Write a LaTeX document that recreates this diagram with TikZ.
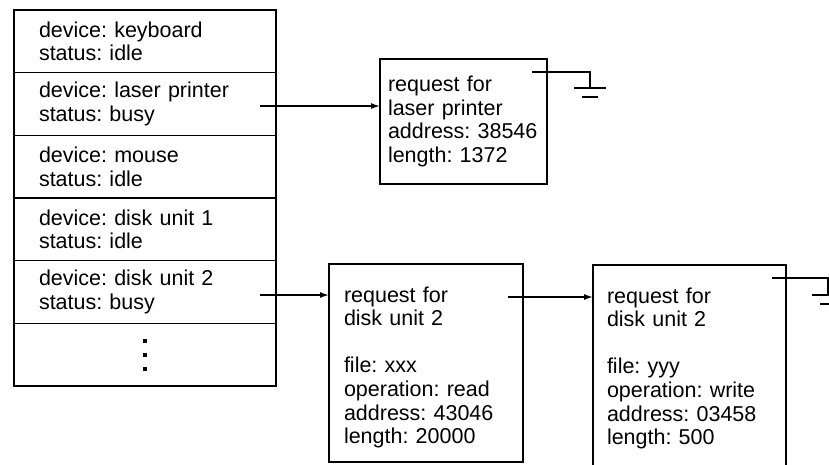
\documentclass[tikz,border=0pt]{standalone}
\usepackage{fontspec}
\setmainfont{Liberation Sans}
\usetikzlibrary{positioning, arrows.meta}

\begin{document}
\frenchspacing
\begin{tikzpicture}[
  x=1pt, y=-1pt,
  every node/.style={inner sep=2pt, outer sep=0pt,
                     font=\fontsize{21.5}{23.6}\selectfont\frenchspacing},
  devrow/.style={draw, line width=1.2pt, minimum height=62.67pt,
                 text width=212pt, inner xsep=25pt, align=left},
  request/.style={draw, line width=1.2pt, align=left, anchor=north west},
  arrow/.style={-{Latex[length=9pt,width=6pt]}, line width=1.5pt},
  earth/.style={line width=2.2pt}]
\useasboundingbox (0,0) rectangle (829,464);

% device status table
\node[devrow, anchor=north west] (kbd) at (14,10)
  {device: keyboard\\status: idle};
\node[devrow, below=0pt of kbd] (lpr)
  {device: laser printer\\status: busy};
\node[devrow, below=0pt of lpr] (mouse)
  {device: mouse\\status: idle};
\node[devrow, below=0pt of mouse] (dsk1)
  {device: disk unit 1\\status: idle};
\node[devrow, below=0pt of dsk1] (dsk2)
  {device: disk unit 2\\status: busy};
\node[devrow, below=0pt of dsk2] (more) {};
\foreach \dy in {-14,0,14}
  \fill ([yshift=\dy pt]more.center) +(-2,-2) rectangle +(2,2);

% request queues
\node[request, text width=151pt, inner xsep=8pt, minimum height=125pt]
  (rqlpr) at (380,59)
  {request for\\laser printer\\address: 38546\\length: 1372};
\node[request, text width=164pt, inner xsep=15pt, inner ysep=14pt,
      text height=24pt] (rqxxx) at (329,264)
  {request for\\disk unit 2\\[23.6pt]file: xxx\\operation: read\\
   address: 43046\\length: 20000};
\node[request, text width=165pt, inner xsep=14pt, inner ysep=14pt,
      text height=24pt, text depth=170pt] (rqyyy) at (593,265)
  {request for\\disk unit 2\\[23.6pt]file: yyy\\operation: write\\
   address: 03458\\length: 500};

\draw[arrow] ([xshift=-16pt, yshift=-2pt]lpr.east) coordinate (s1)
  -- (s1 -| rqlpr.west);
\draw[arrow] ([xshift=-16pt, yshift=-3pt]dsk2.east) coordinate (s2)
  -- (s2 -| rqxxx.west);
\draw[arrow] ([xshift=-15pt, yshift=-33pt]rqxxx.north east) coordinate (s3)
  -- (s3 -| rqyyy.west);

% end of list
\coordinate (gnd1) at (590,88);
\draw[earth] ([xshift=-15pt, yshift=-13pt]rqlpr.north east) -| (gnd1);
\draw[earth] ([xshift=-16pt]gnd1) -- ([xshift=16pt]gnd1);
\draw[earth] ([xshift=-8pt, yshift=-9pt]gnd1) -- ([xshift=8pt, yshift=-9pt]gnd1);
\coordinate (gnd2) at (828,295);
\draw[earth] ([xshift=-14pt, yshift=-13pt]rqyyy.north east) -| (gnd2);
\draw[earth] ([xshift=-16pt]gnd2) -- ([xshift=16pt]gnd2);
\draw[earth] ([xshift=-8pt, yshift=-9pt]gnd2) -- ([xshift=8pt, yshift=-9pt]gnd2);
\end{tikzpicture}
\end{document}
